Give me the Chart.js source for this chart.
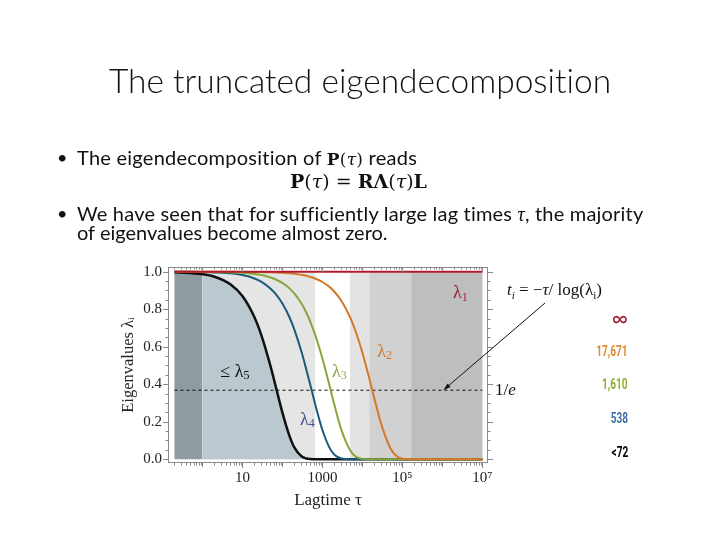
<!DOCTYPE html>
<html>
<head>
    <title>The truncated eigendecomposition</title>
    <script src="https://cdn.jsdelivr.net/npm/chart.js"></script>
    <style>
        body { margin: 0; background: #fff; }
        #slide { position: relative; width: 720px; height: 540px; overflow: hidden; font-family: Lato, "Open Sans", sans-serif; color: #111;
                 font-variant-ligatures: none; font-feature-settings: "liga" 0, "clig" 0; }
        #slide canvas { position: absolute; left: 0; top: 0; }
        .txt { position: absolute; white-space: nowrap; }
        .serif { font-family: "Liberation Serif", "DejaVu Serif", serif; }
        .mat { font-family: "DejaVu Serif", serif; }
        .num { font-family: Roboto, sans-serif; font-weight: 700; font-size: 14px; display: inline-block; transform: scaleX(0.72); transform-origin: right center; }
    </style>
</head>
<body>
<div id="slide">
    <canvas id="grafico" width="720" height="540"></canvas>

    <div class="txt" style="left:0; width:720px; text-align:center; top:60px; font-size:33.5px; font-weight:300; line-height:40px;">The truncated eigendecomposition</div>

    <div class="txt" style="left:57px; top:146px; font-size:18px; line-height:22px;">•</div>
    <div class="txt" style="left:77px; top:146px; font-size:20px; line-height:22px; letter-spacing:0.25px;">The eigendecomposition of <b class="mat" style="font-size:17px;">P</b><span class="mat" style="font-size:17px;">(<i>τ</i>)</span> reads</div>
    <div class="txt mat" style="left:290px; top:170px; font-size:19px; line-height:22px;"><b>P</b>(<i>τ</i>) = <b>RΛ</b>(<i>τ</i>)<b>L</b></div>
    <div class="txt" style="left:57px; top:202px; font-size:18px; line-height:22px;">•</div>
    <div class="txt" style="left:77px; top:202px; font-size:20px; line-height:22px; letter-spacing:0.2px;">We have seen that for sufficiently large lag times <span class="serif"><i>τ</i></span>, the majority</div>
    <div class="txt" style="left:77px; top:221px; font-size:20px; line-height:22px;">of eigenvalues become almost zero.</div>

    <div class="txt serif" style="left:507px; top:279px; font-size:17px; line-height:22px;"><i>t<sub style="font-size:11px;">i</sub></i> = −<i>τ</i>/ log(λ<sub style="font-size:11px;">i</sub>)</div>
    <div class="txt serif" style="left:495px; top:379px; font-size:17px; line-height:22px;">1/<i>e</i></div>

    <div class="txt" style="right:92px; top:306px; font-size:22px; line-height:24px; color:#a0162b;">∞</div>
    <div class="txt" style="right:92px; top:341px; line-height:18px; color:#e08a2c;"><span class="num">17,671</span></div>
    <div class="txt" style="right:92px; top:374px; line-height:18px; color:#8fae2f;"><span class="num">1,610</span></div>
    <div class="txt" style="right:92px; top:408px; line-height:18px; color:#3d6fa6;"><span class="num">538</span></div>
    <div class="txt" style="right:92px; top:442px; line-height:18px; color:#000;"><span class="num">&lt;72</span></div>
</div>

<script>
    // Lagtime values (tau) and eigenvalues
    const tau = [0.2, 1, 2, 5, 10, 20, 30, 50, 70, 100, 150, 200, 300, 400, 500, 700,
                 1000, 1500, 2000, 3000, 5000, 7000, 10000, 15000, 20000, 30000, 50000,
                 70000, 100000, 200000, 1000000, 10000000];

    const lambda1Tau = [0.2, 10000000];
    const lambda1 = [1.0, 1.0];

    const lambda2 = [1.000, 1.000, 1.000, 1.000, 0.999, 0.999, 0.998, 0.997, 0.996, 0.994, 0.992, 0.989,
                     0.983, 0.978, 0.972, 0.961, 0.945, 0.919, 0.893, 0.844, 0.754, 0.673, 0.568, 0.428,
                     0.322, 0.183, 0.059, 0.019, 0.003, 0, 0, 0];

    const lambda3 = [1.000, 0.999, 0.999, 0.997, 0.994, 0.988, 0.982, 0.969, 0.957, 0.940, 0.911, 0.883,
                     0.830, 0.780, 0.733, 0.647, 0.537, 0.394, 0.289, 0.155, 0.045, 0.013, 0.002, 0,
                     0, 0, 0, 0, 0, 0, 0, 0];

    const lambda4 = [1.000, 0.998, 0.996, 0.991, 0.982, 0.964, 0.946, 0.911, 0.878, 0.830, 0.757, 0.690,
                     0.573, 0.475, 0.395, 0.272, 0.156, 0.062, 0.024, 0.004, 0, 0, 0, 0,
                     0, 0, 0, 0, 0, 0, 0, 0];

    const lambda5 = [0.997, 0.986, 0.973, 0.933, 0.870, 0.757, 0.659, 0.499, 0.378, 0.249, 0.125, 0.062,
                     0.016, 0.004, 0.001, 0, 0, 0, 0, 0, 0, 0, 0, 0,
                     0, 0, 0, 0, 0, 0, 0, 0];

    const invE = 0.368;            // 1/e
    const invETau = [0.2, 10000000];

    // shaded lag time regions
    const bandStart = [0.2, 1, 4900, 14800, 166000];
    const bandEnd = [1, 660, 14800, 166000, 10000000];

    const xTicks = [10, 1000, 100000, 10000000];
    const xTickLabels = ['10', '1000', '10⁵', '10⁷'];
    const yTicks = [0, 0.2, 0.4, 0.6, 0.8, 1.0];

    // estilos
    const bandColors = ['#8e9ba1', '#e5e5e5', '#e3e3e3', '#d1d1d1', '#bebebe'];
    const serif = '"Liberation Serif", "DejaVu Serif", serif';

    const puntos = (xs, ys) => xs.map((x, i) => ({ x: x, y: ys[i] }));

    // fill under the <= lambda5 curve starts at tau = 1
    const rellenoNegro = puntos(tau, lambda5).filter(p => p.x >= 1);

    const pluginFiguras = {
        id: 'figuras',
        beforeDatasetsDraw(chart) {
            const { ctx, scales } = chart;
            const y0 = scales.y.getPixelForValue(0);
            const y1 = scales.y.getPixelForValue(1);
            ctx.save();
            bandStart.forEach((s, i) => {
                const xa = scales.x.getPixelForValue(s);
                const xb = scales.x.getPixelForValue(bandEnd[i]);
                ctx.fillStyle = bandColors[i];
                ctx.fillRect(xa, y1, xb - xa, y0 - y1);
            });
            ctx.restore();
        },
        afterDraw(chart) {
            const { ctx, chartArea, scales } = chart;
            const { left, right, top, bottom } = chartArea;
            ctx.save();

            // marco y marcas
            ctx.strokeStyle = '#8a8a8a';
            ctx.lineWidth = 1;
            ctx.strokeRect(left + 0.5, top + 0.5, right - left - 1, bottom - top - 1);
            ctx.beginPath();
            for (let n = -1; n <= 7; n++) {
                for (let k = 1; k <= 9; k++) {
                    const v = k * Math.pow(10, n);
                    if (v < scales.x.min || v > scales.x.max) continue;
                    const px = Math.round(scales.x.getPixelForValue(v)) + 0.5;
                    const len = xTicks.includes(v) ? 5 : (k === 1 ? 4 : 2.5);
                    ctx.moveTo(px, bottom); ctx.lineTo(px, bottom + len);
                    ctx.moveTo(px, top); ctx.lineTo(px, top + len);
                }
            }
            for (let j = 0; j <= 20; j++) {
                const v = j * 0.05;
                const py = Math.round(scales.y.getPixelForValue(v)) + 0.5;
                const len = j % 4 === 0 ? 5 : 2.5;
                ctx.moveTo(left, py); ctx.lineTo(left - len, py);
                ctx.moveTo(right, py); ctx.lineTo(right + len, py);
            }
            ctx.stroke();

            // etiquetas de las curvas
            const etiqueta = (pre, sub, x, y, color) => {
                const px = scales.x.getPixelForValue(x);
                const py = scales.y.getPixelForValue(y);
                ctx.fillStyle = color;
                ctx.textBaseline = 'middle';
                ctx.textAlign = 'left';
                ctx.font = '18px ' + serif;
                ctx.fillText(pre + 'λ', px, py);
                const w = ctx.measureText(pre + 'λ').width;
                ctx.font = '12px ' + serif;
                ctx.fillText(sub, px + w, py + 4);
            };
            etiqueta('', '1', 1850000, 0.884, '#9e1b32');
            etiqueta('', '2', 23400, 0.573, '#d4782a');
            etiqueta('', '3', 1740, 0.466, '#86a83a');
            etiqueta('', '4', 277, 0.209, '#3b4f8a');
            etiqueta('≤ ', '5', 2.8, 0.466, '#111');

            // flecha hacia la línea 1/e
            const hx = scales.x.getPixelForValue(1050000);
            const hy = scales.y.getPixelForValue(invE);
            const tx = right + 57, ty = top + 36;
            const ang = Math.atan2(hy - ty, hx - tx);
            ctx.strokeStyle = '#111';
            ctx.fillStyle = '#111';
            ctx.lineWidth = 1;
            ctx.beginPath();
            ctx.moveTo(tx, ty);
            ctx.lineTo(hx - 6 * Math.cos(ang), hy - 6 * Math.sin(ang));
            ctx.stroke();
            ctx.beginPath();
            ctx.moveTo(hx, hy);
            ctx.lineTo(hx - 8 * Math.cos(ang - 0.3), hy - 8 * Math.sin(ang - 0.3));
            ctx.lineTo(hx - 8 * Math.cos(ang + 0.3), hy - 8 * Math.sin(ang + 0.3));
            ctx.closePath();
            ctx.fill();
            ctx.restore();
        }
    };

    const ctxGrafico = document.getElementById('grafico').getContext('2d');
    new Chart(ctxGrafico, {
        type: 'line',
        data: {
            datasets: [
                { data: puntos(lambda1Tau, lambda1), borderColor: '#b01c2e', borderWidth: 2, order: 0 },
                { data: puntos(tau, lambda2), borderColor: '#d4782a', borderWidth: 2, order: 0 },
                { data: puntos(tau, lambda3), borderColor: '#86a83a', borderWidth: 2, order: 0 },
                { data: puntos(tau, lambda4), borderColor: '#1c5a7a', borderWidth: 2, order: 0 },
                { data: puntos(tau, lambda5), borderColor: '#111111', borderWidth: 2.5, order: 0 },
                { data: puntos(invETau, [invE, invE]), borderColor: '#111', borderWidth: 1, borderDash: [3, 3], order: 5 },
                { data: rellenoNegro, borderWidth: 0, borderColor: 'rgba(0,0,0,0)', backgroundColor: '#bac9d0', fill: 'origin', order: 10 }
            ]
        },
        options: {
            responsive: false,
            animation: false,
            devicePixelRatio: 1,
            layout: { padding: { left: 118, right: 232, top: 267, bottom: 27 } },
            elements: {
                point: { radius: 0 },
                line: { cubicInterpolationMode: 'monotone', fill: false }
            },
            plugins: { legend: { display: false }, tooltip: { enabled: false } },
            scales: {
                x: {
                    type: 'logarithmic',
                    min: 0.138,
                    max: 13800000,
                    afterFit: s => { s.height = 50; },
                    afterBuildTicks: s => { s.ticks = xTicks.map(v => ({ value: v })); },
                    grid: { display: false, drawTicks: false },
                    border: { display: false },
                    ticks: {
                        padding: 6,
                        maxRotation: 0,
                        autoSkip: false,
                        color: '#222',
                        font: { family: serif, size: 15 },
                        callback: v => xTickLabels[xTicks.indexOf(v)]
                    },
                    title: {
                        display: true,
                        text: 'Lagtime τ',
                        color: '#222',
                        font: { family: serif, size: 17 },
                        padding: { top: 0, bottom: 2 }
                    }
                },
                y: {
                    min: -0.02,
                    max: 1.025,
                    afterFit: s => { s.width = 50; },
                    afterBuildTicks: s => { s.ticks = yTicks.map(v => ({ value: v })); },
                    grid: { display: false, drawTicks: false },
                    border: { display: false },
                    ticks: {
                        padding: 6,
                        color: '#222',
                        font: { family: serif, size: 15 },
                        callback: v => v.toFixed(1)
                    },
                    title: {
                        display: true,
                        text: 'Eigenvalues λᵢ',
                        color: '#222',
                        font: { family: serif, size: 16.5 },
                        padding: { top: 1, bottom: 0 }
                    }
                }
            }
        },
        plugins: [pluginFiguras]
    });
</script>
</body>
</html>
